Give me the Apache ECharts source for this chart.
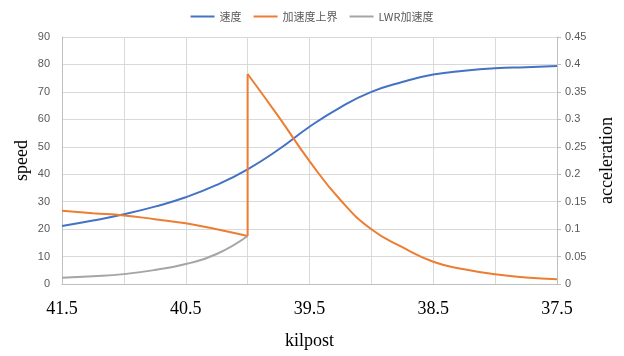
<!DOCTYPE html>
<html>
<head>
<meta charset="utf-8">
<script src="https://cdn.jsdelivr.net/npm/echarts@6/dist/echarts.min.js"></script>
<style>html,body{margin:0;padding:0;background:#fff}#c{width:624px;height:356px}</style>
</head>
<body>
<div id="c"></div>
<script>
// kilpost positions
const kilpost = [41.5, 41.25, 41.0, 40.75, 40.5, 40.25, 40.0, 39.75, 39.5, 39.25, 39.0, 38.75, 38.5, 38.25, 38.0, 37.75, 37.5];
// speed (left axis)
const speed = [21.1, 23.1, 25.4, 28.2, 31.6, 36.1, 41.8, 49.0, 57.3, 64.4, 70.0, 73.6, 76.3, 77.7, 78.6, 79.0, 79.4];
// acceleration upper bound before the jump at 40.0
const accUpperPreKp = [41.5, 41.25, 41.0, 40.75, 40.5, 40.25, 40.0];
const accUpperPre = [0.1335, 0.129, 0.125, 0.118, 0.1106, 0.0997, 0.0874];
// acceleration upper bound after the jump at 40.0
const accUpperPostKp = [40.0, 39.75, 39.5, 39.25, 39.0, 38.75, 38.5, 38.25, 38.0, 37.75, 37.5];
const accUpperPost = [0.3826, 0.305, 0.224, 0.153, 0.0997, 0.067, 0.0406, 0.0268, 0.0177, 0.012, 0.0086];
// LWR acceleration
const lwrKp = [41.5, 41.25, 41.0, 40.75, 40.5, 40.25, 40.0];
const lwrAcc = [0.0115, 0.014, 0.018, 0.0255, 0.0364, 0.0546, 0.0874];
const seriesNames = ['速度', '加速度上界', 'LWR加速度'];

const zip = (a, b) => a.map((v, i) => [v, b[i]]);
const chart = echarts.init(document.getElementById('c'), null, {renderer: 'canvas'});
const gridColor = '#d9d9d9';
const labelColor = '#595959';
const orange = '#ED7D31';
// vertical jump joins the last pre-jump point and the first post-jump point
const jump = [[accUpperPreKp[accUpperPreKp.length - 1], accUpperPre[accUpperPre.length - 1]], [accUpperPostKp[0], accUpperPost[0]]];
chart.setOption({
  animation: false,
  color: ['#4472C4', orange, '#A5A5A5'],
  legend: {
    top: 6, left: 'center', itemWidth: 24, itemHeight: 2, itemGap: 12,
    icon: 'rect',
    textStyle: {color: labelColor, fontSize: 11, fontFamily: 'Noto Sans CJK SC'},
    data: seriesNames
  },
  grid: {left: 62, right: 67, top: 37, bottom: 72, outerBoundsMode: 'none', containLabel: false},
  xAxis: {
    type: 'value', min: 37.5, max: 41.5, interval: 0.5, inverse: true,
    name: 'kilpost', nameLocation: 'middle', nameGap: 48,
    nameTextStyle: {fontFamily: 'Liberation Serif', fontSize: 18, color: '#000'},
    axisLine: {show: true, lineStyle: {color: '#bfbfbf'}},
    axisTick: {show: false},
    splitLine: {show: true, lineStyle: {color: gridColor}},
    axisLabel: {
      fontFamily: 'Liberation Serif', fontSize: 18, color: '#000', margin: 16,
      formatter: v => (Math.abs(((v - 37.5) % 1)) < 1e-6 ? v.toFixed(1) : '')
    }
  },
  yAxis: [{
    type: 'value', min: 0, max: 90, interval: 10,
    name: 'speed', nameLocation: 'middle', nameGap: 31, nameRotate: 90, nameMoveOverlap: false,
    nameTextStyle: {fontFamily: 'Liberation Serif', fontSize: 18, color: '#000'},
    axisLine: {show: true, lineStyle: {color: '#bfbfbf'}},
    axisTick: {show: false},
    splitLine: {show: true, lineStyle: {color: gridColor}},
    axisLabel: {color: labelColor, fontSize: 11, margin: 12}
  }, {
    type: 'value', min: 0, max: 0.45, interval: 0.05,
    name: 'acceleration', nameLocation: 'middle', nameGap: 41, nameRotate: 90, nameMoveOverlap: false,
    nameTextStyle: {fontFamily: 'Liberation Serif', fontSize: 18, color: '#000'},
    axisLine: {show: true, lineStyle: {color: '#bfbfbf'}},
    axisTick: {show: true, length: 4, lineStyle: {color: '#bfbfbf'}},
    splitLine: {show: false},
    axisLabel: {color: labelColor, fontSize: 11, margin: 8, formatter: v => String(+v.toFixed(2))}
  }],
  series: [{
    name: seriesNames[0], type: 'line', yAxisIndex: 0, showSymbol: false, smooth: 0.5,
    lineStyle: {width: 2}, data: zip(kilpost, speed)
  }, {
    name: seriesNames[1], type: 'line', yAxisIndex: 1, showSymbol: false, smooth: 0.5,
    lineStyle: {width: 2}, data: zip(accUpperPreKp, accUpperPre)
  }, {
    name: seriesNames[1], type: 'line', yAxisIndex: 1, showSymbol: false,
    lineStyle: {width: 2}, data: jump
  }, {
    name: seriesNames[1], type: 'line', yAxisIndex: 1, showSymbol: false, smooth: 0.5,
    lineStyle: {width: 2}, data: zip(accUpperPostKp, accUpperPost)
  }, {
    name: seriesNames[2], type: 'line', yAxisIndex: 1, showSymbol: false, smooth: 0.5,
    lineStyle: {width: 2}, data: zip(lwrKp, lwrAcc)
  }]
});
</script>
</body>
</html>
